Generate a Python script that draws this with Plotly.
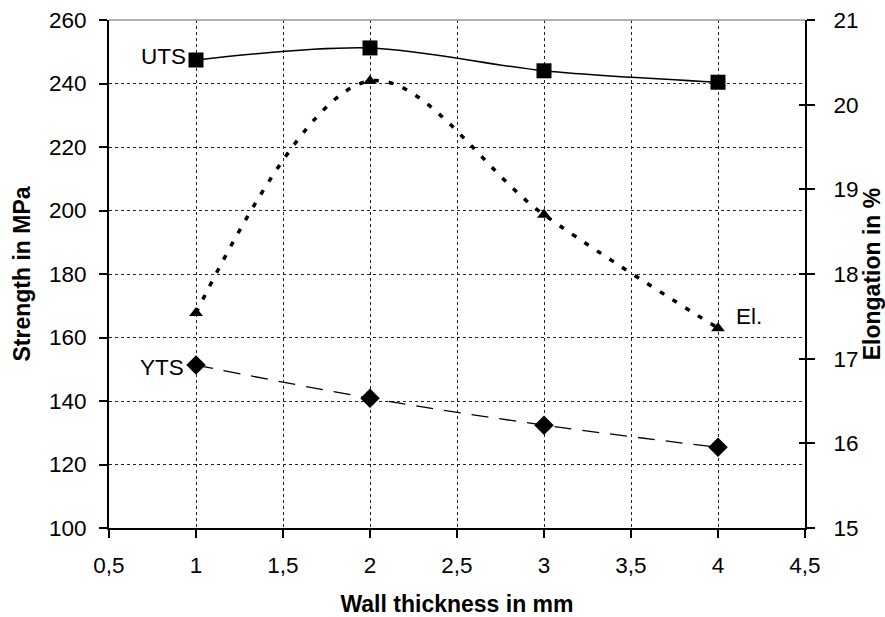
import plotly.graph_objects as go

thickness = [1, 2, 3, 4]
uts = [247.4, 251.2, 244.0, 240.4]
yts = [151.3, 140.9, 132.4, 125.4]
elong = [17.54, 20.28, 18.70, 17.36]

x_ticks = [0.5, 1, 1.5, 2, 2.5, 3, 3.5, 4, 4.5]
x_tick_labels = ["0,5", "1", "1,5", "2", "2,5", "3", "3,5", "4", "4,5"]
y_ticks = [100, 120, 140, 160, 180, 200, 220, 240, 260]
y2_ticks = [15, 16, 17, 18, 19, 20, 21]

FONT = "Liberation Sans, Arial, sans-serif"
TICK_SIZE = 22.5
TITLE_SIZE = 23

fig = go.Figure()

fig.add_trace(go.Scatter(
    x=thickness, y=uts, mode="lines+markers", name="UTS",
    line=dict(color="black", width=1.5, shape="spline", smoothing=0.9),
    marker=dict(symbol="square", size=15, color="black"),
))
fig.add_trace(go.Scatter(
    x=thickness, y=yts, mode="lines+markers", name="YTS",
    line=dict(color="black", width=1.3, dash="17px,11px", shape="spline", smoothing=1),
    marker=dict(symbol="diamond", size=15, color="black"),
))
fig.add_trace(go.Scatter(
    x=thickness, y=elong, mode="lines+markers", name="El.", yaxis="y2",
    line=dict(color="black", width=3.5, dash="5px,10px", shape="spline", smoothing=1),
    marker=dict(symbol="triangle-up", size=12, color="black"),
))

fig.add_annotation(x=1, y=uts[0], xref="x", yref="y", text="UTS", showarrow=False,
                   xanchor="right", yanchor="middle", xshift=-8, yshift=4,
                   font=dict(family=FONT, size=TICK_SIZE, color="black"))
fig.add_annotation(x=1, y=yts[0], xref="x", yref="y", text="YTS", showarrow=False,
                   xanchor="right", yanchor="middle", xshift=-10, yshift=-2,
                   font=dict(family=FONT, size=TICK_SIZE, color="black"))
fig.add_annotation(x=4, y=elong[3], xref="x", yref="y2", text="El.", showarrow=False,
                   xanchor="left", yanchor="middle", xshift=16, yshift=12,
                   font=dict(family=FONT, size=TICK_SIZE, color="black"))

fig.update_layout(
    width=885, height=617,
    margin=dict(l=109, r=80, t=20, b=89),
    paper_bgcolor="white", plot_bgcolor="white",
    showlegend=False,
    font=dict(family=FONT, size=TICK_SIZE, color="black"),
    xaxis=dict(
        range=[0.5, 4.5], tickvals=x_ticks, ticktext=x_tick_labels,
        automargin=False,
        showline=True, linecolor="black", linewidth=2,
        ticks="outside", ticklen=8, tickwidth=1.5, tickcolor="black",
        ticklabelstandoff=8,
        tickfont=dict(size=TICK_SIZE),
        showgrid=True, gridcolor="#222222", gridwidth=1, griddash="dot",
        zeroline=False,
        title=dict(text="<b>Wall thickness in mm</b>", font=dict(size=TITLE_SIZE), standoff=21),
    ),
    yaxis=dict(
        range=[100, 260], tickvals=y_ticks,
        automargin=False,
        showline=True, linecolor="black", linewidth=2,
        ticks="outside", ticklen=8, tickwidth=1.5, tickcolor="black",
        ticklabelstandoff=8,
        tickfont=dict(size=TICK_SIZE),
        showgrid=True, gridcolor="#222222", gridwidth=1, griddash="dot",
        zeroline=False,
        title=dict(text="<b>Strength in MPa</b>", font=dict(size=TITLE_SIZE), standoff=12),
    ),
    yaxis2=dict(
        range=[15, 21], tickvals=y2_ticks, overlaying="y", side="right",
        automargin=False,
        showline=True, linecolor="black", linewidth=2,
        ticks="outside", ticklen=8, tickwidth=1.5, tickcolor="black",
        ticklabelstandoff=14,
        tickfont=dict(size=TICK_SIZE),
        showgrid=False, zeroline=False,
        title=dict(text="<b>Elongation in %</b>", font=dict(size=TITLE_SIZE), standoff=2),
    ),
    yaxis3=dict(
        range=[15, 21], tickvals=y2_ticks, overlaying="y", side="right",
        anchor="x", automargin=False, showline=False, showticklabels=False,
        ticks="inside", ticklen=6, tickwidth=1.5, tickcolor="black",
        showgrid=False, zeroline=False,
    ),
    shapes=[dict(type="line", xref="paper", yref="paper", x0=0, x1=1, y0=1, y1=1,
                 line=dict(color="#999999", width=1.5))],
)

# invisible trace so the inner tick marks of the right axis are drawn
fig.add_trace(go.Scatter(x=[thickness[0]], y=[elong[0]], yaxis="y3", mode="markers",
                         marker=dict(opacity=0), hoverinfo="skip", showlegend=False))

fig.write_html("out.html")
